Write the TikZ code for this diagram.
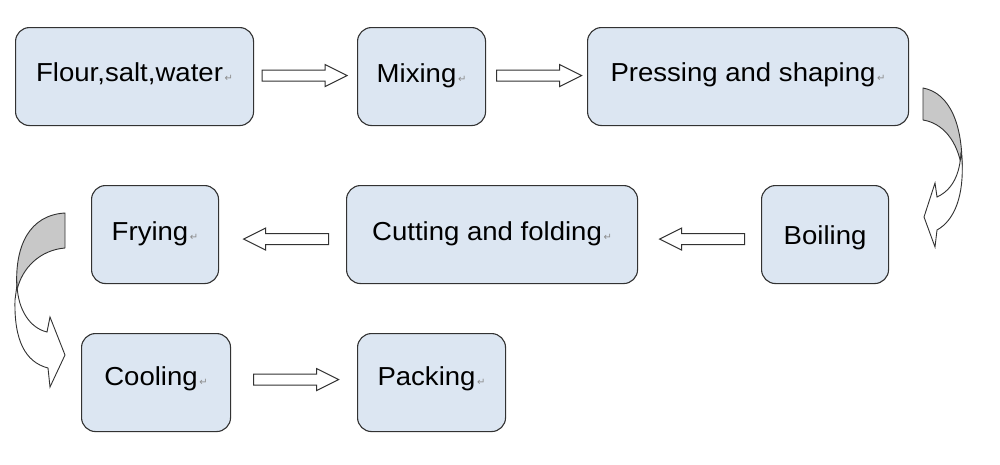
\documentclass[tikz,border=0pt]{standalone}
\usepackage{fontspec}
\setmainfont{Liberation Sans}[FakeStretch=1.06]
\newfontfamily\dvfont{DejaVu Sans}
\usetikzlibrary{calc}
\definecolor{boxfill}{RGB}{220,230,242}
\definecolor{edge}{RGB}{50,50,50}
\definecolor{backgray}{RGB}{200,200,200}
\definecolor{markgray}{RGB}{140,140,140}
\newcommand\pmark{{\dvfont\fontsize{10}{10}\selectfont\color{markgray}\,↵}}
\begin{document}
\begin{tikzpicture}[x=1pt,y=-1pt,
  box/.style={draw=edge, line width=1.1pt, fill=boxfill, rounded corners=14pt,
    anchor=north west, inner sep=0pt, minimum height=98pt,
    font=\fontsize{26}{30}\selectfont, text depth=0pt},
  arrowline/.style={draw=edge, line width=1pt, fill=white, line join=miter},
  curveback/.style={draw=edge, line width=0.9pt, fill=backgray, line join=round},
  curvefront/.style={draw=edge, line width=0.9pt, fill=white, line join=miter},
  pics/rarrow/.style={code={\path[arrowline] (-42.5,-5.5) -- (20.5,-5.5) -- (20.5,-11)
      -- (42.5,0) -- (20.5,11) -- (20.5,5.5) -- (-42.5,5.5) -- cycle;}},
  pics/larrow/.style={code={\path[arrowline] (42.5,-5.5) -- (-20.5,-5.5) -- (-20.5,-11)
      -- (-42.5,0) -- (-20.5,11) -- (-20.5,5.5) -- (42.5,5.5) -- cycle;}},
]
\fill[white] (0,0) rectangle (1000,464);
\useasboundingbox (0,0) rectangle (1000,464);

% boxes
\node[box, minimum width=238pt, text height=9pt] (b1) at (15,27) {Flour,salt,water\pmark};
\node[box, minimum width=128pt, text height=11pt] (b2) at (357,27) {Mixing\pmark};
\node[box, minimum width=321pt, text height=10pt] (b3) at (587,27) {Pressing and shaping\pmark};
\node[box, minimum width=127pt, text height=19.5pt] (b4) at (761,185) {Boiling};
\node[box, minimum width=291pt, text height=12pt] (b5) at (346,185) {Cutting and folding\pmark};
\node[box, minimum width=127pt, text height=12pt] (b6) at (91,185) {Frying\pmark};
\node[box, minimum width=149pt, text height=6pt] (b7) at (81,333) {Cooling\pmark};
\node[box, minimum width=148pt, text height=6pt] (b8) at (357,333) {Packing\pmark};

% straight block arrows
\pic at ($(b1.east)!0.5!(b2.west)+(-1,-1)$) {rarrow};
\pic at ($(b2.east)!0.5!(b3.west)+(2.5,-1)$) {rarrow};
\pic at ($(b5.east)!0.5!(b4.west)+(2.5,4.5)$) {larrow};
\pic at ($(b6.east)!0.5!(b5.west)+(3.5,4.5)$) {larrow};
\pic at ($(b7.east)!0.5!(b8.west)+(2,-3)$) {rarrow};

% curved arrow: Pressing and shaping -> Boiling
\path[curveback] (923,88) .. controls (950,93) and (963,125) .. (962,170)
  .. controls (958,140) and (942,123) .. (923,120) -- cycle;
\path[curvefront] (961,152) .. controls (960,175) and (952,190) .. (937,197)
  -- (935,183) -- (924,217) -- (935,247) -- (937,230)
  .. controls (955,220) and (964,195) .. (962,160) -- cycle;

% curved arrow: Frying -> Cooling
\path[curveback] (65,213) -- (65,248) .. controls (40,250) and (22,268) .. (17,290)
  .. controls (14,245) and (30,215) .. (65,213) -- cycle;
\path[curvefront] (17,285) .. controls (18,310) and (30,328) .. (47,332)
  -- (50,317) -- (65,355) -- (50,387) -- (48,368)
  .. controls (25,362) and (14,340) .. (15,300) -- cycle;
\end{tikzpicture}
\end{document}
